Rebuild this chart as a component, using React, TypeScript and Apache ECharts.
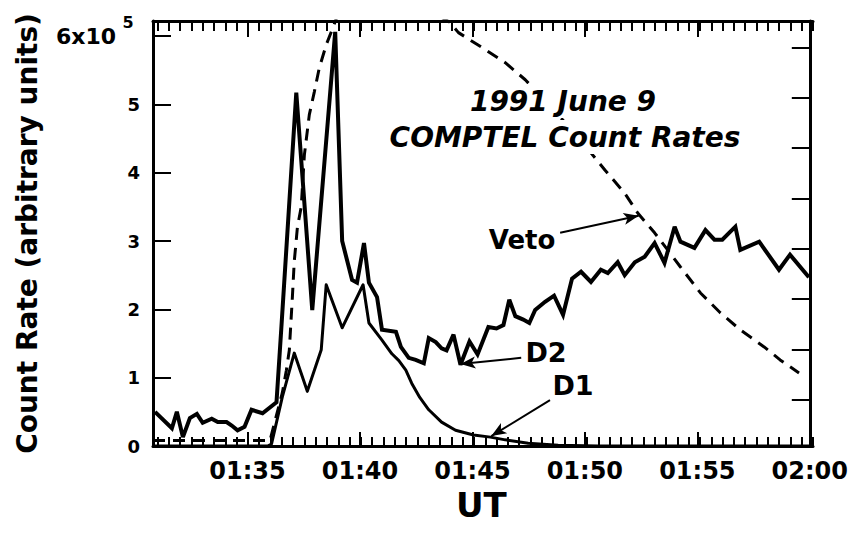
import React, { useEffect, useRef } from 'react';
import * as echarts from 'echarts';

const FONT = '"DejaVu Sans", "Liberation Sans", Arial, sans-serif';

// time axis: minutes after 01:00 UT
const X_MIN = 30.8;
const X_MAX = 60;
const Y_MAX = 6.22;
const MINOR_MIN = 31;
const MINOR_STEP = 0.5;
const majorTimes = [35, 40, 45, 50, 55, 60];
const yTickValues = [0, 1, 2, 3, 4, 5, 6];
const rightTickValues = [1, 2, 3, 4, 5, 6, 7, 8];

// D2 detector count rate (x 10^5)
const d2Minutes = [30.89, 31.64, 31.86, 32.13, 32.44, 32.75, 33.01, 33.41, 33.68, 34.07, 34.3, 34.56, 34.87, 35.18, 35.67, 36.29, 36.5, 37.17, 37.88, 38.9, 39.21, 39.65, 39.87, 40.18, 40.4, 40.76, 40.98, 41.6, 41.82, 42.17, 42.48, 42.84, 43.06, 43.37, 43.63, 43.85, 44.16, 44.47, 44.87, 45.23, 45.71, 46.07, 46.38, 46.64, 46.91, 47.26, 47.53, 47.79, 48.23, 48.63, 49.03, 49.43, 49.83, 50.27, 50.71, 51.02, 51.46, 51.77, 52.22, 52.66, 53.1, 53.54, 53.99, 54.25, 54.87, 55.36, 55.76, 56.11, 56.69, 56.91, 57.75, 58.63, 59.12, 59.96];
const d2Values = [0.5, 0.26, 0.5, 0.13, 0.41, 0.47, 0.34, 0.4, 0.35, 0.35, 0.3, 0.23, 0.28, 0.53, 0.48, 0.64, 1.7, 5.17, 1.99, 6.06, 3.0, 2.43, 2.39, 2.97, 2.39, 2.18, 1.7, 1.67, 1.45, 1.29, 1.26, 1.21, 1.58, 1.52, 1.43, 1.4, 1.63, 1.19, 1.53, 1.34, 1.74, 1.72, 1.77, 2.14, 1.9, 1.85, 1.8, 1.99, 2.11, 2.2, 1.92, 2.45, 2.55, 2.4, 2.58, 2.53, 2.69, 2.5, 2.69, 2.77, 2.97, 2.68, 3.21, 2.99, 2.9, 3.16, 3.02, 3.02, 3.21, 2.87, 2.99, 2.58, 2.8, 2.47];

// D1 detector count rate
const d1Minutes = [30.8, 35.9, 36.07, 36.55, 37.08, 37.66, 38.28, 38.5, 39.21, 40.14, 40.4, 40.98, 41.42, 41.73, 42.04, 42.3, 42.66, 43.06, 43.63, 44.25, 45.05, 45.8, 46.46, 47.48, 48.81, 50.58, 60];
const d1Values = [0, 0, 0.03, 0.72, 1.36, 0.8, 1.41, 2.36, 1.73, 2.36, 1.8, 1.55, 1.35, 1.25, 1.11, 0.92, 0.71, 0.53, 0.35, 0.23, 0.16, 0.13, 0.09, 0.04, 0.01, 0, 0];

// Veto shield count rate (off scale near the maximum)
const vetoMinutes = [30.8, 36.0, 36.55, 36.73, 36.86, 37.0, 37.08, 37.22, 37.39, 37.53, 37.75, 37.97, 38.19, 38.5, 38.76, 39.0, 41.0, 43.0, 44.0, 44.38, 45.58, 46.46, 47.35, 48.81, 50.27, 50.89, 51.77, 52.35, 53.1, 53.68, 54.25, 55.14, 56.02, 56.91, 57.97, 58.68, 59.52];
const vetoValues = [0.08, 0.08, 0.78, 1.11, 1.4, 2.2, 2.7, 3.2, 3.5, 4.26, 4.85, 5.18, 5.53, 5.87, 6.09, 6.3, 6.6, 6.4, 6.2, 6.05, 5.8, 5.61, 5.36, 4.85, 4.29, 4.04, 3.7, 3.41, 3.12, 2.87, 2.62, 2.24, 1.95, 1.7, 1.45, 1.26, 1.07];

// annotation arrows (data coordinates: [minutes, value])
const arrowVeto = [[48.9, 3.12], [52.39, 3.37]];
const arrowD2 = [[47.17, 1.29], [44.47, 1.2]];
const arrowD1 = [[48.45, 0.67], [45.84, 0.146]];

const pairs = (xs: number[], ys: number[]) => xs.map((x, i) => [x, ys[i]]);

const fmtTime = (v: number) => {
  const h = 1 + Math.floor(v / 60);
  const m = Math.round(v - (h - 1) * 60);
  return `${String(h).padStart(2, '0')}:${String(m).padStart(2, '0')}`;
};

const W = 851;
const GRID = { left: 153, right: 38, top: 21, bottom: 91 };

export default function App() {
  const ref = useRef<HTMLDivElement>(null);
  useEffect(() => {
    const chart = echarts.init(ref.current!, null, { renderer: 'svg' });

    const tickStyle = { color: '#000', width: 2 };
    const baseX = { type: 'value', min: X_MIN, max: X_MAX, splitLine: { show: false } };
    const arrowLine = (a: number[][]) => [{ coord: a[0] }, { coord: a[1] }];

    // second grid with the same pixel scale, starting at a multiple of the minor step
    const pxPerMin = (W - GRID.left - GRID.right) / (X_MAX - X_MIN);
    const minorLeft = GRID.left + (MINOR_MIN - X_MIN) * pxPerMin;
    const minorX = {
      type: 'value', gridIndex: 1, min: MINOR_MIN, max: X_MAX, interval: MINOR_STEP,
      splitLine: { show: false }, axisLabel: { show: false },
      axisLine: { show: true, lineStyle: { color: '#000', width: 3 } },
    };

    chart.setOption({
      animation: false,
      backgroundColor: '#fff',
      grid: [
        { ...GRID },
        { left: minorLeft, right: GRID.right, top: GRID.top, bottom: GRID.bottom },
      ],
      xAxis: [
        {
          ...baseX,
          position: 'bottom',
          axisLine: { show: true, lineStyle: { color: '#000', width: 3 } },
          axisTick: { show: true, inside: true, length: 14, lineStyle: tickStyle, customValues: majorTimes },
          axisLabel: { show: true, customValues: majorTimes, formatter: fmtTime, fontSize: 24, fontWeight: 'bold', fontFamily: FONT, color: '#000', margin: 13 },
          name: 'UT',
          nameLocation: 'middle',
          nameGap: 37,
          nameTextStyle: { fontSize: 34, fontWeight: 'bold', fontFamily: FONT, color: '#000' },
        },
        {
          ...baseX,
          position: 'top',
          axisLine: { show: true, lineStyle: { color: '#000', width: 3 } },
          axisTick: { show: true, inside: true, length: 16, lineStyle: tickStyle, customValues: majorTimes },
          axisLabel: { show: false },
        },
        { ...minorX, position: 'bottom', axisTick: { show: true, inside: true, length: 9, lineStyle: tickStyle } },
        { ...minorX, position: 'top', axisTick: { show: true, inside: true, length: 10, lineStyle: tickStyle } },
      ],
      yAxis: [
        {
          type: 'value',
          position: 'left',
          min: 0,
          max: Y_MAX,
          splitLine: { show: false },
          axisLine: { show: true, lineStyle: { color: '#000', width: 3 } },
          axisTick: { show: true, inside: true, length: 18, lineStyle: tickStyle, customValues: yTickValues },
          axisLabel: {
            show: true,
            customValues: yTickValues,
            margin: 13,
            fontSize: 18,
            fontWeight: 'bold',
            fontFamily: FONT,
            color: '#000',
            formatter: (v: number) => (v === 6 ? '{a|6x10}{s|5}' : String(v)),
            rich: {
              a: { fontSize: 22, fontWeight: 'bold', fontFamily: FONT, color: '#000', lineHeight: 44, verticalAlign: 'middle' },
              s: { fontSize: 16, fontWeight: 'bold', fontFamily: FONT, color: '#000', lineHeight: 16, verticalAlign: 'top', width: 24, align: 'left' },
            },
          },
          name: 'Count Rate (arbitrary units)',
          nameLocation: 'middle',
          nameGap: 112,
          nameTextStyle: { fontSize: 28, fontWeight: 'bold', fontFamily: FONT, color: '#000' },
        },
        {
          type: 'value',
          position: 'right',
          min: 0.08,
          max: 8.53,
          splitLine: { show: false },
          axisLine: { show: true, lineStyle: { color: '#000', width: 3 } },
          axisTick: { show: true, inside: true, length: 18, lineStyle: tickStyle, customValues: rightTickValues },
          axisLabel: { show: false },
        },
        {
          type: 'value', gridIndex: 1, min: 0, max: 1, show: false,
        },
      ],
      series: [
        {
          name: 'Veto',
          type: 'line',
          data: pairs(vetoMinutes, vetoValues),
          showSymbol: false,
          symbol: 'none',
          lineStyle: { color: '#000', width: 3, type: [12, 8] },
          z: 3,
        },
        {
          name: 'D1',
          type: 'line',
          data: pairs(d1Minutes, d1Values),
          showSymbol: false,
          symbol: 'none',
          lineStyle: { color: '#000', width: 3, join: 'round' },
          z: 4,
        },
        {
          name: 'D2',
          type: 'line',
          data: pairs(d2Minutes, d2Values),
          showSymbol: false,
          symbol: 'none',
          lineStyle: { color: '#000', width: 4, join: 'miter', miterLimit: 3 },
          z: 5,
          markLine: {
            silent: true,
            symbol: ['none', 'arrow'],
            symbolSize: [9, 15],
            label: { show: false },
            lineStyle: { color: '#000', width: 2, type: 'solid' },
            data: [arrowLine(arrowVeto), arrowLine(arrowD2), arrowLine(arrowD1)],
          },
        },
      ],
      graphic: [
        {
          type: 'text', x: 563, y: 101, z: 100,
          style: { text: '1991 June 9', font: `italic bold 28px ${FONT}`, fill: '#000', align: 'center', verticalAlign: 'middle', backgroundColor: '#fff', padding: [3, 4] },
        },
        {
          type: 'text', x: 565, y: 137, z: 100,
          style: { text: 'COMPTEL Count Rates', font: `italic bold 28px ${FONT}`, fill: '#000', align: 'center', verticalAlign: 'middle', backgroundColor: '#fff', padding: [3, 4] },
        },
        {
          type: 'text', x: 522, y: 240, z: 100,
          style: { text: 'Veto', font: `bold 26px ${FONT}`, fill: '#000', align: 'center', verticalAlign: 'middle' },
        },
        {
          type: 'text', x: 546, y: 352, z: 100,
          style: { text: 'D2', font: `bold 27px ${FONT}`, fill: '#000', align: 'center', verticalAlign: 'middle' },
        },
        {
          type: 'text', x: 573, y: 385, z: 100,
          style: { text: 'D1', font: `bold 27px ${FONT}`, fill: '#000', align: 'center', verticalAlign: 'middle' },
        },
      ],
    });
    return () => chart.dispose();
  }, []);
  return <div ref={ref} style={{ position: 'fixed', left: 0, top: 0, width: W, height: 537 }} />;
}
